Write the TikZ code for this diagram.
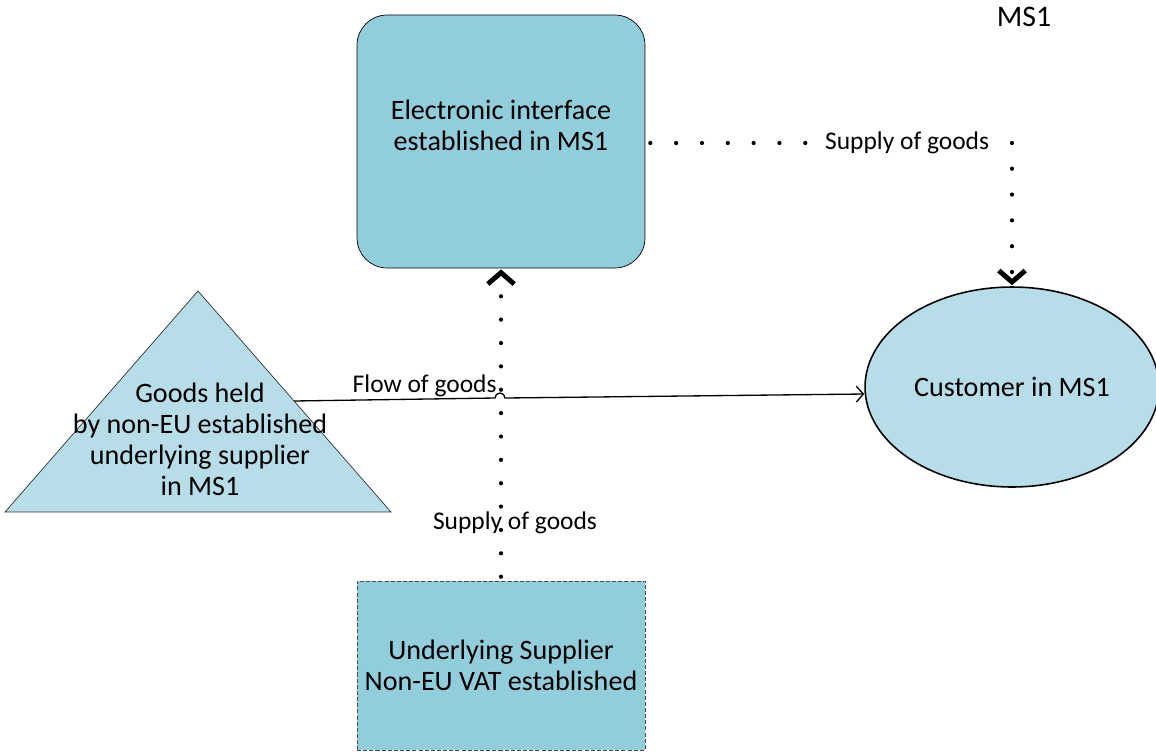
\documentclass[tikz,border=0pt]{standalone}
\usepackage{fontspec}
\setmainfont{Carlito}
\usepackage{xcolor}
\definecolor{boxblue}{RGB}{146,205,220}
\definecolor{lightblue}{RGB}{183,221,232}
\usetikzlibrary{positioning,shapes,arrows.meta,calc}

\begin{document}
\begin{tikzpicture}[x=0.02cm, y=-0.02cm,
		every node/.style={font=\fontsize{16}{17.6}\selectfont, align=center},
		lbl/.style={font=\fontsize{14.5}{16}\selectfont, inner sep=1pt},
		dotline/.style={line width=2.4pt, dash pattern=on 0pt off #1, line cap=round},
		chev/.style={-{Straight Barb[length=6.5pt,width=15pt,line width=2.8pt]}}]
	\useasboundingbox (0,0) rectangle (1156,751);
	% boxes
	\node[draw, fill=boxblue, rounded corners=0.6cm, minimum width=5.76cm, minimum height=5.06cm,
		label={[yshift=0.32cm]center:Electronic interface\\established in MS1}] (eint) at (501,141.5) {};
	\draw[fill=lightblue, draw=black!80] (198,291) -- (391,512) -- (5,512) -- cycle;
	\node (goods) at (200,439) {Goods held\\by non-EU established\\underlying supplier\\in MS1};
	\coordinate (goodsedge) at (294,401);
	\node[draw, ellipse, fill=lightblue, line width=0.9pt, minimum width=5.88cm, minimum height=4cm] (cust) at (1012,387) {Customer in MS1};
	\node[draw=black!70, dash pattern=on 2.3pt off 1.2pt, fill=boxblue, minimum width=5.76cm, minimum height=3.38cm] (sup) at (501,665.5) {Underlying Supplier\\Non-EU VAT established};
	\node[font=\fontsize{17}{19}\selectfont] (ms) at (1024,17) {MS1};
	% connectors
	\coordinate (topturn) at (1012,143);
	\coordinate (hop) at (500,398);
	\draw[-{Straight Barb[length=4pt,width=9pt]}, line width=0.75pt] (goodsedge)
		-- node[lbl, pos=0.65, above] {Flow of goods} ($(hop)+(-5,0)$)
		arc[start angle=180, end angle=0, radius=0.1cm] -- ($(cust.west)+(0,7)$);
	\draw[dotline=14.7pt, chev] ($(eint.east)+(5,1.5)$) -- node[lbl, pos=0.71, fill=white] {Supply of goods} (topturn) -- ($(cust.north)+(0,-1)$);
	\draw[dotline=13.3pt, chev] ($(sup.north)+(0,-4)$) -- node[lbl, pos=0.176, xshift=0.28cm] {Supply of goods} ($(eint.south)+(0,1)$);
\end{tikzpicture}
\end{document}
